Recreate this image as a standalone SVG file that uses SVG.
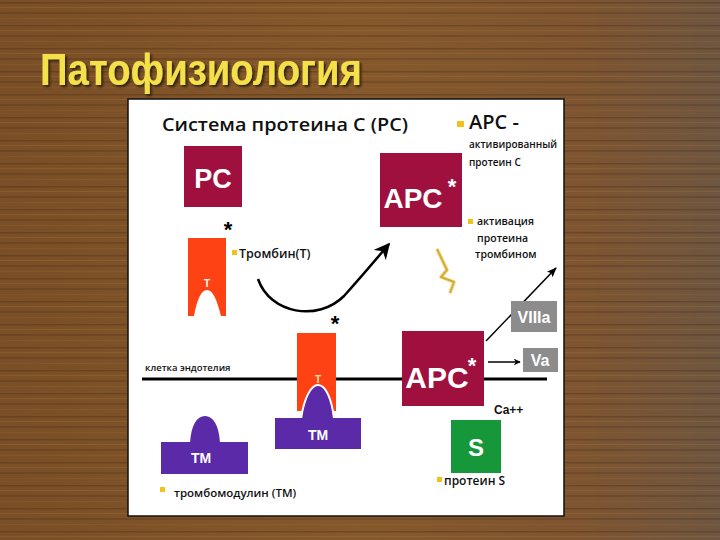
<svg xmlns="http://www.w3.org/2000/svg" width="720" height="540" viewBox="0 0 720 540">
<defs>
<linearGradient id="wood" x1="0" y1="0" x2="1" y2="0">
<stop offset="0" stop-color="#7a4e26"/>
<stop offset="0.5" stop-color="#86592c"/>
<stop offset="0.8" stop-color="#7e5530"/>
<stop offset="1" stop-color="#6e5640"/>
</linearGradient>
<pattern id="grain" width="720" height="23" patternUnits="userSpaceOnUse">
<rect x="0" y="2" width="720" height="1.5" fill="#4a2c12" opacity="0.35"/>
<rect x="0" y="7" width="720" height="1" fill="#b07a40" opacity="0.25"/>
<rect x="0" y="12" width="720" height="2" fill="#3e2410" opacity="0.22"/>
<rect x="0" y="18" width="720" height="1" fill="#a06a38" opacity="0.25"/>
</pattern>
<filter id="sh" x="-5%" y="-20%" width="110%" height="140%">
<feDropShadow dx="2" dy="2" stdDeviation="1" flood-color="#2a1a08" flood-opacity="0.9"/>
</filter>
<marker id="ah" viewBox="0 0 10 10" refX="9" refY="5" markerWidth="7" markerHeight="7" orient="auto" markerUnits="userSpaceOnUse">
<path d="M0,0 L10,5 L0,10 L3,5 Z" fill="#000"/>
</marker>
<marker id="ah2" viewBox="0 0 10 10" refX="9" refY="5" markerWidth="16" markerHeight="16" orient="auto" markerUnits="userSpaceOnUse">
<path d="M0,0 L10,5 L0,10 L3,5 Z" fill="#000"/>
</marker>
<marker id="ah3" viewBox="0 0 10 10" refX="9" refY="5" markerWidth="10" markerHeight="10" orient="auto" markerUnits="userSpaceOnUse">
<path d="M0,1 L10,5 L0,9 L2,5 Z" fill="#000"/>
</marker>
</defs>
<style>
.box{fill:#a0103f}
.thr{fill:#ff4214}
.tm{fill:#5a2aa8}
.gray{fill:#8c8c8c}
.lbl{font-family:"Liberation Sans",Arial,sans-serif;font-weight:bold;fill:#fff;text-anchor:middle}
.txt{font-family:"Open Sans","Noto Sans",sans-serif;font-weight:600;fill:#111}
.sq{fill:#f2c21a}
.ast{font-family:"Liberation Sans",Arial,sans-serif;font-weight:bold;fill:#000;text-anchor:middle}
</style>
<rect x="0" y="0" width="720" height="540" fill="url(#wood)"/>
<rect x="0" y="0" width="720" height="540" fill="url(#grain)"/>
<text x="40" y="85" font-family="'Liberation Sans Narrow','Liberation Sans',Arial,sans-serif" font-weight="bold" font-size="44" fill="#f4e04c" textLength="322" lengthAdjust="spacingAndGlyphs" filter="url(#sh)">Патофизиология</text>
<rect x="128" y="99" width="436" height="417" fill="#fff" stroke="#111" stroke-width="1.5"/>
<text x="162" y="131" class="txt" font-size="18" textLength="246" lengthAdjust="spacingAndGlyphs">Система протеина С (PC)</text>
<g id="connectors" fill="none" stroke="#000">
<line x1="142" y1="379" x2="547" y2="379" stroke-width="3"/>
<path d="M258,279 C270,314 318,322 344,296 Q362,276 389,244" stroke-width="2.5" marker-end="url(#ah2)"/>
<line x1="486" y1="341" x2="556" y2="268" stroke-width="1.5" marker-end="url(#ah3)"/>
<line x1="488" y1="362" x2="520" y2="362" stroke-width="1.5" marker-end="url(#ah)"/>
<path d="M437,249 L447,270 L441,277 L454,282 L450,293" stroke="#f3e2a0" stroke-width="4" stroke-linejoin="round"/>
<path d="M437,249 L447,270 L441,277 L454,282 L450,293" stroke="#d9a83a" stroke-width="2" stroke-linejoin="round"/>
</g>
<g id="pc">
<rect x="184" y="146" width="58" height="61" class="box"/>
<text x="213" y="188" class="lbl" font-size="27">PC</text>
</g>
<g id="thrombin-free">
<text x="228" y="237" class="ast" font-size="22">*</text>
<path class="thr" d="M188,238 H226 V316 H221 C217,300 213,290 207,290 C201,290 197,300 194,316 H188 Z"/>
<text x="207" y="287" class="lbl" font-size="10">T</text>
<rect x="232" y="250" width="5" height="5" class="sq"/>
<text x="239" y="258" class="txt" font-size="12.5">Тромбин(T)</text>
</g>
<g id="apc-top">
<rect x="380" y="153" width="82" height="74" class="box"/>
<text x="413" y="208" class="lbl" font-size="28">APC</text>
<text x="452" y="194" class="lbl" font-size="22">*</text>
</g>
<g id="legend-apc">
<rect x="457" y="121" width="7" height="6" class="sq"/>
<text x="469" y="129" class="txt" font-size="20">APC -</text>
<text x="469" y="148" class="txt" font-size="10">активированный</text>
<text x="469" y="166" class="txt" font-size="10">протеин С</text>
<rect x="468" y="219" width="5" height="5" class="sq"/>
<text x="477" y="225" class="txt" font-size="10.5">активация</text>
<text x="477" y="242" class="txt" font-size="10.5">протеина</text>
<text x="475" y="258" class="txt" font-size="10.5">тромбином</text>
</g>
<g id="asterisk-mid"><text x="335" y="331" class="ast" font-size="22">*</text></g>
<g id="endothelium">
<text x="145" y="371" class="txt" font-size="9.5">клетка эндотелия</text>
</g>
<g id="thrombin-bound">
<rect x="297" y="333" width="39" height="78" class="thr"/>
<path d="M301,419 C304,398 311,385 318,385 C326,385 332,400 334,419 Z" class="tm" stroke="#fff" stroke-width="2"/>
<text x="318" y="383" font-family="'Liberation Sans',Arial,sans-serif" font-weight="bold" font-size="10" fill="#f8e0b0" text-anchor="middle">T</text>
<rect x="275" y="418" width="86" height="31" class="tm"/>
<text x="318" y="440" class="lbl" font-size="14">TM</text>
</g>
<g id="tm-free">
<path d="M190,443 C191,425 197,416 205,416 C213,416 219,425 220,443 Z" class="tm"/>
<rect x="161" y="442" width="87" height="32" class="tm"/>
<text x="201" y="463" class="lbl" font-size="14">TM</text>
<rect x="160" y="487" width="5" height="5" class="sq"/>
<text x="174" y="497" class="txt" font-size="11.5">тромбомодулин (TM)</text>
</g>
<g id="apc-bottom">
<rect x="402" y="331" width="82" height="75" class="box"/>
<text x="437" y="388" class="lbl" font-size="30">APC</text>
<text x="472" y="373" class="lbl" font-size="22">*</text>
</g>
<g id="viiia">
<rect x="511" y="301" width="46" height="31" class="gray"/>
<text x="534" y="323" class="lbl" font-size="16">VIIIa</text>
</g>
<g id="va">
<rect x="523" y="348" width="35" height="24" class="gray"/>
<text x="540" y="366" class="lbl" font-size="16">Va</text>
</g>
<g id="ca"><text x="494" y="414" font-family="'Liberation Sans',Arial,sans-serif" font-weight="bold" font-size="12" fill="#111">Ca++</text></g>
<g id="s">
<rect x="451" y="420" width="50" height="53" fill="#16983a"/>
<text x="476" y="456" class="lbl" font-size="24" fill="#e8f8e8">S</text>
<rect x="437" y="477" width="5" height="5" class="sq"/>
<text x="444" y="485" class="txt" font-size="12">протеин S</text>
</g>
</svg>
